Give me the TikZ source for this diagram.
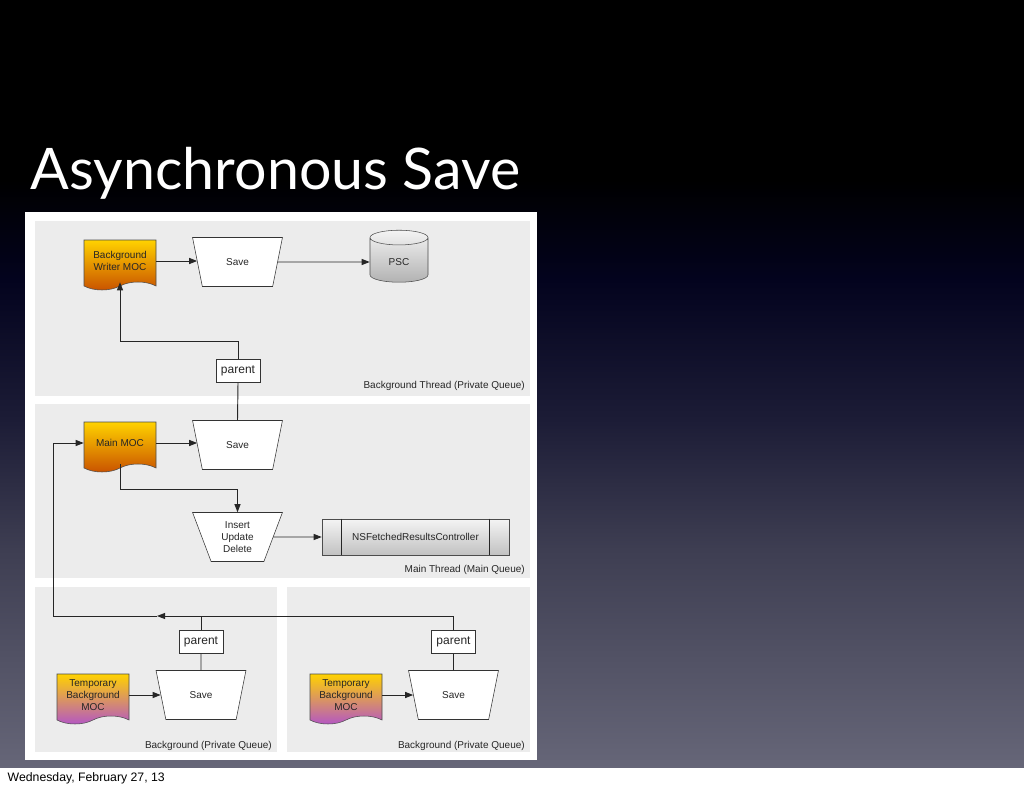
\documentclass[tikz,border=0pt]{standalone}
\usepackage{fontspec}
\setmainfont{Liberation Sans}
\newfontfamily\titlefont{Lato}
\usetikzlibrary{shapes.geometric,shapes.symbols,arrows.meta}

\definecolor{panelgray}{RGB}{236,236,236}
\definecolor{mocyellow}{RGB}{255,210,0}
\definecolor{mocorange}{RGB}{200,80,0}
\definecolor{mocpurple}{RGB}{178,84,200}
\definecolor{storelight}{RGB}{244,244,244}
\definecolor{storedark}{RGB}{178,178,178}
\definecolor{bgA}{RGB}{102,102,120}
\definecolor{bgB}{RGB}{62,62,82}
\definecolor{bgC}{RGB}{28,28,54}
\definecolor{bgD}{RGB}{3,3,30}
\pgfdeclareverticalshading{slidebg}{100bp}{color(0bp)=(bgA); color(25bp)=(bgA);
  color(39.2bp)=(bgB); color(47.7bp)=(bgC); color(56.8bp)=(bgD);
  color(63.3bp)=(black); color(100bp)=(black)}

\begin{document}
\begin{tikzpicture}[
                x=0.75pt, y=-0.75pt,
                every node/.style={
                    font=\fontsize{7.5}{9}\selectfont,
                    text=black!85
                },
                mocbox/.style={
                    shape=tape,
                    tape bend top=none,
                    tape bend bottom=in and out,
                    tape bend height=6pt,
                    draw=black!70,
                    minimum width=54pt,
                    minimum height=37.5pt,
                    inner sep=1pt,
                    align=center
                },
                writermoc/.style={
                    mocbox,
                    top color=mocyellow,
                    bottom color=mocorange
                },
                tempmoc/.style={
                    mocbox,
                    top color=mocyellow,
                    bottom color=mocpurple
                },
                savebox/.style={
                    trapezium,
                    shape border rotate=180,
                    trapezium angle=70,
                    trapezium stretches=true,
                    draw=black!80,
                    fill=white,
                    minimum width=67.5pt,
                    minimum height=36.75pt,
                    inner sep=1pt,
                    align=center
                },
                parentbox/.style={
                    rectangle,
                    draw=black!80,
                    fill=white,
                    minimum width=33pt,
                    minimum height=17.25pt,
                    inner sep=1pt,
                    font=\fontsize{9}{10}\selectfont
                },
                storebox/.style={
                    cylinder,
                    shape border rotate=90,
                    aspect=0.5,
                    draw=black!70,
                    top color=storelight,
                    bottom color=storedark,
                    minimum width=43.5pt,
                    minimum height=39pt
                },
                ctrlbox/.style={
                    rectangle,
                    draw=black!70,
                    top color=storelight,
                    bottom color=storedark!80,
                    minimum width=140.25pt,
                    minimum height=27pt
                },
                queuelabel/.style={
                    anchor=east,
                    inner sep=0pt
                },
                link/.style={
                    black!85,
                    line width=0.7pt
                },
                arrow/.style={
                    link,
                    -{Triangle[length=6pt,width=4.5pt]}
                }
            ]
    \useasboundingbox (0,0) rectangle (1024,788);

    % slide background
    \shade[shading=slidebg] (0,0) rectangle (1024,768);
    \fill[white] (0,768) rectangle (1024,788);
    \node[anchor=base west, text=white, font=\titlefont\fontsize{43}{50}\selectfont] (title) at (26,190) {Asynchronous Save};
    \node[anchor=west, text=black, font=\fontsize{9.2}{11}\selectfont] (date) at (3,778) {Wednesday, February 27, 13};

    % diagram panels
    \fill[white] (25,212) rectangle (537,760);
    \fill[panelgray] (35,221) rectangle (530,396);
    \fill[panelgray] (35,404) rectangle (530,578);
    \fill[panelgray] (35,587) rectangle (277,752);
    \fill[panelgray] (287,587) rectangle (530,752);

    \node[queuelabel] (lbl1) at (525,386) {Background Thread (Private Queue)};
    \node[queuelabel] (lbl2) at (525,570) {Main Thread (Main Queue)};
    \node[queuelabel] (lbl3) at (272,746) {Background (Private Queue)};
    \node[queuelabel] (lbl4) at (525,746) {Background (Private Queue)};

    % background thread
    \node[writermoc] (writer) at (120,261) {Background\\Writer MOC};
    \node[savebox] (save1) at (237.5,262) {Save};
    \node[storebox] (psc) at (399,262) {PSC};
    \node[parentbox] (par1) at (238,371) {parent};

    % main thread
    \node[writermoc] (mainmoc) at (120,443) {Main MOC};
    \node[savebox] (save2) at (237.5,445) {Save};
    \node[savebox] (iud) at (237.5,537) {Insert\\Update\\Delete};
    \node[ctrlbox] (nsfrc) at (415.5,537) {NSFetchedResultsController};
    \draw[link] ([xshift=15pt]nsfrc.north west) -- ([xshift=15pt]nsfrc.south west);
    \draw[link] ([xshift=-15pt]nsfrc.north east) -- ([xshift=-15pt]nsfrc.south east);

    % private queues
    \node[tempmoc] (temp1) at (93,695) {Temporary\\Background\\MOC};
    \node[savebox] (save3) at (201,695) {Save};
    \node[parentbox] (par3) at (201,642) {parent};
    \node[tempmoc] (temp2) at (346,695) {Temporary\\Background\\MOC};
    \node[savebox] (save4) at (453.5,695) {Save};
    \node[parentbox] (par4) at (453.5,642) {parent};

    \coordinate (bus) at (157,616);
    \coordinate (busleft) at (53,616);

    \draw[arrow] (writer.east) -- (writer.east -| save1.west);
    \draw[arrow] (save1.east) -- (psc.west);
    \draw[arrow] (par1.north) -- ++(0,-18) -| (writer.south);
    \draw[link] (par1.south) -- (save2.north);

    \draw[arrow] (mainmoc.east) -- (mainmoc.east -| save2.west);
    \draw[arrow] (mainmoc.south) -- ++(0,25) -| (iud.north);
    \draw[arrow] (iud.east) -- (nsfrc.west);

    \draw[arrow] (temp1.east) -- (temp1.east -| save3.west);
    \draw[arrow] (temp2.east) -- (temp2.east -| save4.west);
    \draw[link] (save3.north) -- (par3.south);
    \draw[link] (save4.north) -- (par4.south);
    \draw[link] (par3.north) -- (par3.north |- bus);
    \draw[arrow] (par4.north) |- (bus);
    \draw[arrow] (bus) -- (busleft) |- (mainmoc.west);
\end{tikzpicture}
\end{document}
